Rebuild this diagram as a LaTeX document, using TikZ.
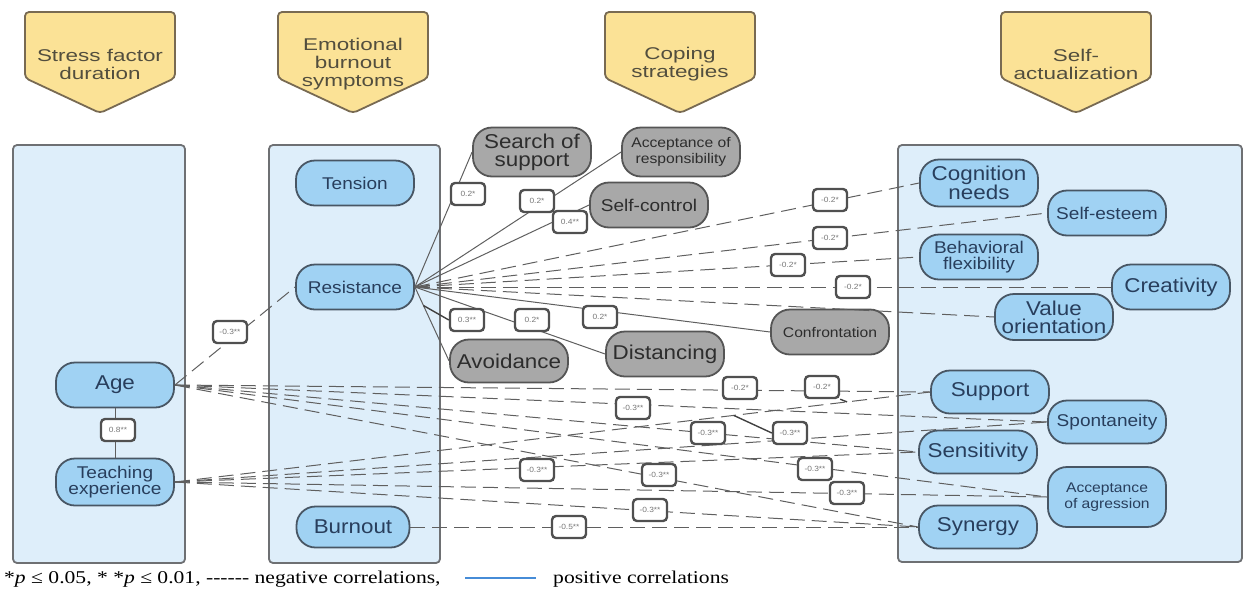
\documentclass[tikz,border=0pt]{standalone}
\usepackage{fontspec}
\setmainfont{Liberation Serif}[FakeStretch=1.2]
\newfontfamily\diagfont{Liberation Sans}[FakeStretch=1.12]
\newfontfamily\hdrfont{Liberation Sans}[FakeStretch=1.32]
\usetikzlibrary{calc}

\definecolor{panelblue}{RGB}{222,238,250}
\definecolor{panelgray}{RGB}{110,112,115}
\definecolor{nodeblue}{RGB}{160,210,243}
\definecolor{nodeedge}{RGB}{72,86,100}
\definecolor{nodetext}{RGB}{40,62,92}
\definecolor{nodegray}{RGB}{168,168,168}
\definecolor{grayedge}{RGB}{85,85,85}
\definecolor{graytext}{RGB}{45,45,45}
\definecolor{hdryellow}{RGB}{251,226,150}
\definecolor{hdredge}{RGB}{120,106,82}
\definecolor{hdrtext}{RGB}{82,78,62}
\definecolor{linegray}{RGB}{95,95,95}
\definecolor{coefedge}{RGB}{80,80,80}
\definecolor{coeftext}{RGB}{120,120,120}
\definecolor{legblue}{RGB}{70,140,215}

\newcommand{\szlarge}{\diagfont\fontsize{20}{18}\selectfont}
\newcommand{\szmid}{\diagfont\fontsize{17}{16.5}\selectfont}
\newcommand{\szsmall}{\diagfont\fontsize{14}{16}\selectfont}
\newcommand{\szcoef}{\diagfont\fontsize{7.5}{8}\selectfont}
\newcommand{\szhdr}{\hdrfont\fontsize{17}{18}\selectfont}
\newcommand{\sznote}{\rmfamily\fontsize{18}{18}\selectfont}
\newcommand{\hy}{-\kern0pt}

\begin{document}
\begin{tikzpicture}[x=1pt, y=-1pt]

\tikzstyle{panel} = [rectangle, rounded corners=4pt, draw=panelgray, line width=1.8pt, fill=panelblue]
\tikzstyle{factor} = [rectangle, rounded corners=19pt, minimum width=118pt, minimum height=45pt, inner sep=0pt, align=center, draw=nodeedge, line width=1.8pt, fill=nodeblue, text=nodetext]
\tikzstyle{coping} = [factor, draw=grayedge, fill=nodegray, text=graytext]
\tikzstyle{header} = [draw=hdredge, line width=1.8pt, fill=hdryellow, rounded corners=4pt]
\tikzstyle{hdrlabel} = [align=center, text=hdrtext, font=\szhdr]
\tikzstyle{coef} = [rectangle, rounded corners=4pt, minimum width=34pt, minimum height=22pt, inner sep=0pt, draw=coefedge, line width=2.4pt, fill=white, text=coeftext, font=\szcoef]
\tikzstyle{poscor} = [draw=linegray, line width=1pt]
\tikzstyle{negcor} = [poscor, dash pattern=on 15pt off 7pt]
\tikzstyle{leader} = [draw=black!75, line width=1.4pt]
\tikzstyle{legline} = [draw=legblue, line width=1.2pt]

\useasboundingbox (0,0) rectangle (1247,595);

% Headers
\foreach \cx/\htxt in {100/{Stress factor\\duration}, 353/{Emotional\\burnout\\symptoms}, 680/{Coping\\strategies}, 1076/{Self-\\actualization}}{
  \draw [header] (\cx-75,12) -- (\cx+75,12) -- (\cx+75,78) -- (\cx,113) -- (\cx-75,78) -- cycle;
  \node (hdr\cx) [hdrlabel] at (\cx,64) {\htxt};
}

% Panels
\node (leftpanel) [panel, minimum width=172pt, minimum height=418pt] at (99,354) {};
\node (midpanel) [panel, minimum width=171pt, minimum height=418pt] at (354.5,354) {};
\node (rightpanel) [panel, minimum width=344pt, minimum height=417pt] at (1070,353.5) {};

% Stress factor duration
\node (age) [factor, font=\szlarge] at (115,385) {Age};
\node (teach) [factor, font=\szmid, minimum height=47pt] at (115,482) {Teaching\\experience};

% Emotional burnout symptoms
\node (tension) [factor, font=\szmid] at (355,183) {Tension};
\node (resist) [factor, font=\szmid] at (355,287) {Resistance};
\node (burnout) [factor, font=\szlarge, minimum width=113pt, minimum height=41pt] at (353,527) {Burnout};

% Coping strategies
\node (search) [coping, font=\szlarge, minimum height=49pt] at (532,152) {Search of\\support};
\node (accresp) [coping, font=\szsmall, minimum height=49pt] at (681,152) {Acceptance of\\responsibility};
\node (selfctrl) [coping, font=\szmid] at (649,205) {Self-control};
\node (avoid) [coping, font=\szlarge, minimum height=43pt] at (509,361) {Avoidance};
\node (distanc) [coping, font=\szlarge] at (665,354) {Distancing};
\node (confront) [coping, font=\szsmall] at (830,332) {Confrontation};

% Self-actualization
\node (cognit) [factor, font=\szlarge, minimum height=47pt] at (979,183) {Cognition\\needs};
\node (selfest) [factor, font=\szmid] at (1107,213) {Self-esteem};
\node (behflex) [factor, font=\szmid] at (979,257) {Behavioral\\flexibility};
\node (creativ) [factor, font=\szlarge] at (1171,287) {Creativity};
\node (valueor) [factor, font=\szlarge, minimum height=46pt] at (1054,317) {Value\\orientation};
\node (support) [factor, font=\szlarge, minimum height=43pt] at (990,392) {Support};
\node (spontan) [factor, font=\szmid, minimum height=43pt] at (1107,422) {Spontaneity};
\node (sensit) [factor, font=\szlarge, minimum height=43pt] at (978,452) {Sensitivity};
\node (accagr) [factor, font=\szsmall, minimum height=60pt] at (1107,497) {Acceptance\\of agression};
\node (synergy) [factor, font=\szlarge, minimum height=43pt] at (978,527) {Synergy};

% Correlations
\draw [poscor] (age.south) -- (teach.north);
\draw [negcor] (age.east) -- (resist.west);

\draw [poscor] (resist.east) -- (search.west);
\draw [poscor] (resist.east) -- (accresp.west);
\draw [poscor] (resist.east) -- (selfctrl.west);
\draw [poscor] (resist.east) -- (avoid.west);
\draw [poscor] (resist.east) -- (distanc.west);
\draw [poscor] (resist.east) -- (confront.west);
\draw [negcor] (resist.east) -- (cognit.west);
\draw [negcor] (resist.east) -- (selfest.west);
\draw [negcor] (resist.east) -- (behflex.west);
\draw [negcor] (resist.east) -- (creativ.west);
\draw [negcor] (resist.east) -- (valueor.west);

\draw [negcor] (age.east) -- (support.west);
\draw [negcor] (age.east) -- (spontan.west);
\draw [negcor] (age.east) -- (sensit.west);
\draw [negcor] (age.east) -- (accagr.west);
\draw [negcor] (age.east) -- (synergy.west);
\draw [negcor] (teach.east) -- (support.west);
\draw [negcor] (teach.east) -- (spontan.west);
\draw [negcor] (teach.east) -- (sensit.west);
\draw [negcor] (teach.east) -- (accagr.west);
\draw [negcor] (teach.east) -- (synergy.west);
\draw [negcor] (burnout.east) -- (synergy.west);

% Coefficients
\node (agetch) [coef] at (118,430) {0.8**};
\node (ageres) [coef] at (230,332) {-0.3**};
\node (ressea) [coef] at (468,194) {0.2*};
\node (resacc) [coef] at (537,201) {0.2*};
\node (ressel) [coef] at (570,222) {0.4**};
\node (resavo) [coef] at (467,320) {0.3**};
\node (resdis) [coef] at (532,320) {0.2*};
\node (rescon) [coef] at (600,317) {0.2*};
\node (rescog) [coef] at (830,200) {-0.2*};
\node (resest) [coef] at (830,238) {-0.2*};
\node (resbeh) [coef] at (788,265) {-0.2*};
\node (rescre) [coef] at (853,287) {-0.2*};
\node (agesup) [coef] at (740,388) {-0.2*};
\node (tchsup) [coef] at (822,387) {-0.2*};
\node (agespo) [coef] at (633,408) {-0.3**};
\node (agesen) [coef] at (708,433) {-0.3**};
\node (tchspo) [coef] at (790,433) {-0.3**};
\node (tchsen) [coef] at (537,470) {-0.3**};
\node (agesyn) [coef] at (659,475) {-0.3**};
\node (ageacc) [coef] at (815,469) {-0.3**};
\node (tchacc) [coef] at (847,493) {-0.3**};
\node (tchsyn) [coef] at (650,510) {-0.3**};
\node (bursyn) [coef] at (569,527) {-0.5**};

\draw [leader] (resavo.west) -- ($(resist.east)!0.25!(avoid.west)$);
\draw [leader] (tchsup.south east) -- ($(teach.east)!0.89!(support.west)$);
\draw [leader] (tchspo.west) -- ($(teach.east)!0.74!(support.west)$);

% Legend
\node (signif) [anchor=base west, inner sep=0pt, font=\sznote] at (4,583) {*\textit{p} ≤ 0.05, * *\textit{p} ≤ 0.01, \hy\hy\hy\hy\hy\hy{} negative correlations,};
\coordinate (legstart) at (465,578);
\coordinate (legend) at (536,578);
\draw [legline] (legstart) -- (legend);
\node (poscap) [anchor=base west, inner sep=0pt, font=\sznote] at (553,583) {positive correlations};

\end{tikzpicture}
\end{document}
